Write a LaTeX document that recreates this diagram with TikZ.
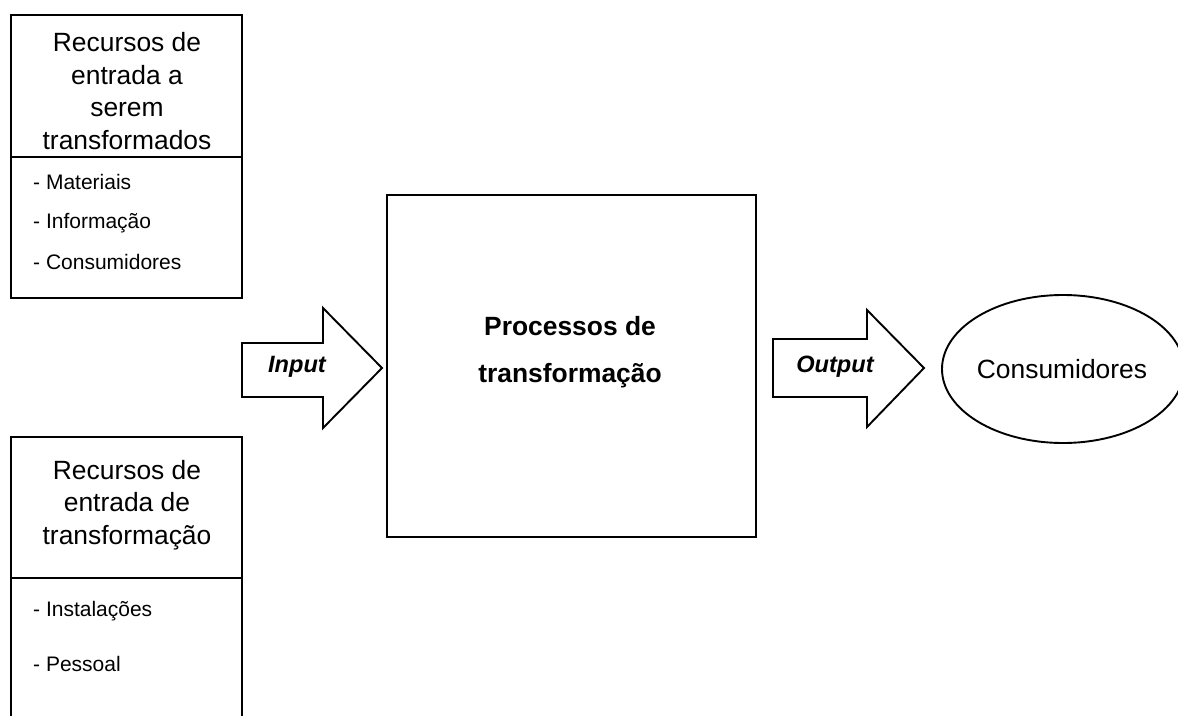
\documentclass[tikz,border=0pt]{standalone}
\usepackage{fontspec}
\setmainfont{Liberation Sans}
\usetikzlibrary{shapes.geometric}
\tikzset{
  frame/.style={draw, line width=1.9pt, rectangle, inner sep=0pt},
  heading/.style={align=center, inner sep=0pt, font=\fontsize{26.4}{32.5}\selectfont},
  item/.style={anchor=base west, inner sep=0pt, font=\fontsize{21}{25}\selectfont},
  bigarrow/.style={draw, line width=1.9pt, line join=miter, fill=white},
  arrowtext/.style={inner sep=0pt, font=\fontsize{23.6}{28}\selectfont\bfseries\itshape},
}
\begin{document}
\begin{tikzpicture}[x=1pt, y=-1pt]
\clip (0,0) rectangle (1178,715);
\fill[white] (0,0) rectangle (1178,715);

% resources to be transformed
\node[frame, minimum width=231, minimum height=283] (trans) at (126.5,156.5) {};
\draw[line width=1.9pt] (trans.west |- 0,157) coordinate (tdl) -- (trans.east |- 0,157) coordinate (tdr);
\node[heading] (transhead) at (127,91) {Recursos de\\entrada a\\serem\\transformados};
\node[item] (mat) at (33,189) {- Materiais};
\node[item] (inf) at (33,228) {- Informação};
\node[item] (con) at (33,269) {- Consumidores};

% transforming resources (box runs past the bottom edge)
\node[frame, minimum width=231, minimum height=320] (tfm) at (126.5,597) {};
\draw[line width=1.9pt] (tfm.west |- 0,578) coordinate (fdl) -- (tfm.east |- 0,578) coordinate (fdr);
\node[heading] (tfmhead) at (127,505) {Recursos de\\entrada de\\transformação};
\node[item] (ins) at (33,616) {- Instalações};
\node[item] (pes) at (33,671) {- Pessoal};

% transformation process
\node[frame, minimum width=369, minimum height=342] (proc) at (571.5,366) {};
\node[align=center, inner sep=0pt, font=\fontsize{26.4}{47}\selectfont\bfseries] (prochead) at (570,352) {Processos de\\transformação};

% input arrow
\coordinate (ia) at (242,343);
\draw[bigarrow] (ia) -- (323,343) -- (323,308) -- (382,368) -- (323,428) -- (323,397) -- (242,397) -- cycle;
\node[arrowtext] (input) at (297,367) {Input};

% output arrow
\coordinate (oa) at (773,339);
\draw[bigarrow] (oa) -- (867,339) -- (867,310) -- (924,368) -- (867,427) -- (867,397) -- (773,397) -- cycle;
\node[arrowtext] (output) at (835,367) {Output};

% customers
\node[draw, line width=1.9pt, ellipse, minimum width=242, minimum height=148, inner sep=0pt] (cust) at (1063,369) {};
\node[inner sep=0pt, font=\fontsize{26.4}{30}\selectfont] (custlabel) at (1062,369) {Consumidores};
\end{tikzpicture}
\end{document}
